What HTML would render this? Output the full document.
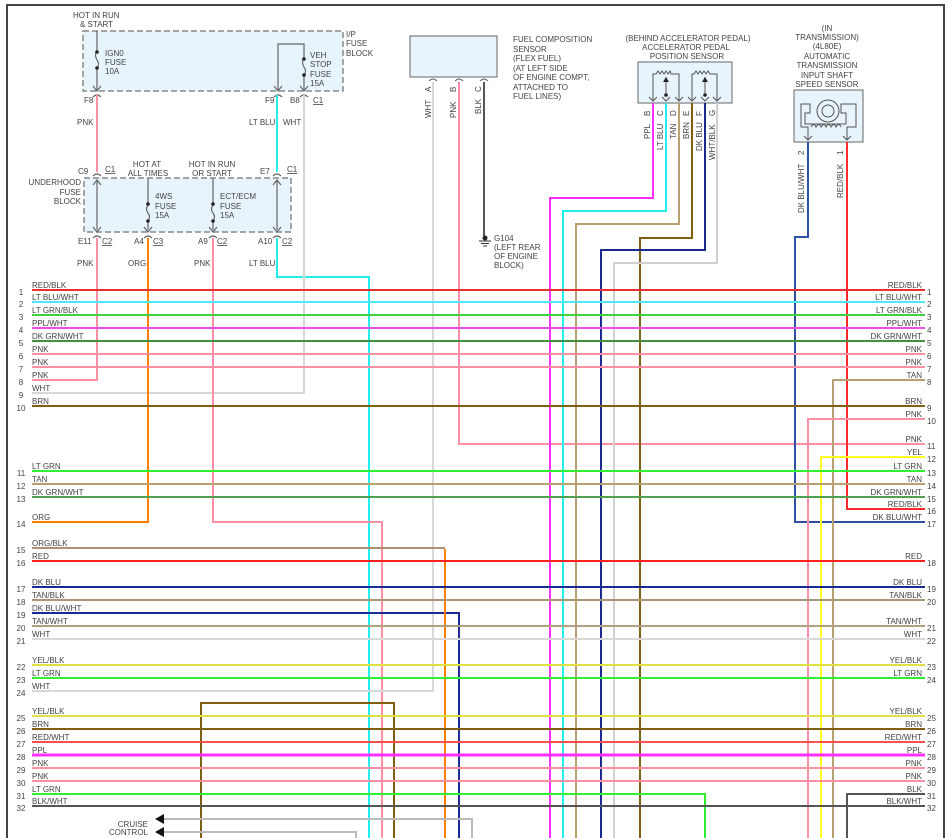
<!DOCTYPE html>
<html><head><meta charset="utf-8"><style>
html,body{margin:0;padding:0;background:#fff;}
svg{display:block;font-family:"Liberation Sans",sans-serif;font-size:8px;fill:#444;}
.w{fill:none;stroke-width:2;}
.r{text-anchor:end;}
.m{text-anchor:middle;}
</style></head><body>
<svg width="952" height="838" viewBox="0 0 952 838" xmlns="http://www.w3.org/2000/svg">
<rect x="0" y="0" width="952" height="838" fill="#fff"/>
<path d="M7 838 V5 H944 V838" fill="none" stroke="#444" stroke-width="2"/>

<rect x="83" y="31" width="260" height="60" fill="#e8f4fb" stroke="#888" stroke-width="1.5" stroke-dasharray="6,3"/>
<rect x="84" y="178" width="207" height="54" fill="#e8f4fb" stroke="#888" stroke-width="1.5" stroke-dasharray="6,3"/>
<g stroke="#666" stroke-width="1.2" fill="none">
<path d="M97 31 V51 M97 69 V90 M97 51 q-3 4 0 9 q3 4 0 9"/>
<path d="M278 91 V44 H304 V58 M304 58 q-3 4 0 9 q3 4 0 9 M304 76 V90"/>
<path d="M97 180 V230 M277 180 V230"/>
<path d="M148 178 V205 M148 205 q-3 4 0 8 q3 4 0 8 M148 221 V230"/>
<path d="M213 178 V205 M213 205 q-3 4 0 8 q3 4 0 8 M213 221 V230"/>
<path d="M93 86 l4 5 l4 -5 M274 86 l4 5 l4 -5 M300 86 l4 5 l4 -5 M93 227 l4 5 l4 -5 M144 227 l4 5 l4 -5 M209 227 l4 5 l4 -5 M273 227 l4 5 l4 -5 M93 185 l4 -5 l4 5 M273 185 l4 -5 l4 5"/>
<path d="M93 97 q4 -4 8 0 M274 97 q4 -4 8 0 M300 97 q4 -4 8 0 M93 176 q4 -4 8 0 M273 176 q4 -4 8 0 M93 238 q4 -4 8 0 M144 238 q4 -4 8 0 M209 238 q4 -4 8 0 M273 238 q4 -4 8 0"/>
</g>
<g fill="#222"><circle cx="97" cy="52" r="1.8"/><circle cx="97" cy="68" r="1.8"/><circle cx="304" cy="59" r="1.8"/><circle cx="304" cy="75" r="1.8"/><circle cx="148" cy="204" r="1.8"/><circle cx="148" cy="221" r="1.8"/><circle cx="213" cy="204" r="1.8"/><circle cx="213" cy="221" r="1.8"/></g>

<text x="73" y="18">HOT IN RUN</text><text x="80" y="27">&amp; START</text>
<text x="105" y="56">IGN0</text><text x="105" y="65">FUSE</text><text x="105" y="74">10A</text>
<text x="310" y="58">VEH</text><text x="310" y="67">STOP</text><text x="310" y="77">FUSE</text><text x="310" y="86">15A</text>
<text x="346" y="37">I/P</text><text x="346" y="46">FUSE</text><text x="346" y="56">BLOCK</text>
<text x="84" y="103">F8</text><text x="265" y="103">F9</text><text x="290" y="103">B8</text><text x="313" y="103" text-decoration="underline">C1</text>
<text x="77" y="125">PNK</text><text x="249" y="125">LT BLU</text><text x="283" y="125">WHT</text>
<text x="78" y="174">C9</text><text x="105" y="172" text-decoration="underline">C1</text>
<text x="260" y="174">E7</text><text x="287" y="172" text-decoration="underline">C1</text>
<text class="m" x="147" y="167">HOT AT</text><text class="m" x="148" y="176">ALL TIMES</text>
<text class="m" x="212" y="167">HOT IN RUN</text><text class="m" x="212" y="176">OR START</text>
<text class="r" x="81" y="185">UNDERHOOD</text><text class="r" x="81" y="195">FUSE</text><text class="r" x="81" y="204">BLOCK</text>
<text x="155" y="199">4WS</text><text x="155" y="209">FUSE</text><text x="155" y="218">15A</text>
<text x="220" y="199">ECT/ECM</text><text x="220" y="209">FUSE</text><text x="220" y="218">15A</text>
<text x="78" y="244">E11</text><text x="102" y="244" text-decoration="underline">C2</text>
<text x="134" y="244">A4</text><text x="153" y="244" text-decoration="underline">C3</text>
<text x="198" y="244">A9</text><text x="217" y="244" text-decoration="underline">C2</text>
<text x="258" y="244">A10</text><text x="282" y="244" text-decoration="underline">C2</text>
<text x="77" y="266">PNK</text><text x="128" y="266">ORG</text><text x="194" y="266">PNK</text><text x="249" y="266">LT BLU</text>

<rect x="410" y="36" width="87" height="41" fill="#e8f4fb" stroke="#666" stroke-width="1"/>
<g stroke="#666" fill="none" stroke-width="1"><path d="M429 81 q4 -4 8 0 M455 81 q4 -4 8 0 M480 81 q4 -4 8 0"/></g>
<text x="513" y="42">FUEL COMPOSITION</text><text x="513" y="52">SENSOR</text><text x="513" y="61">(FLEX FUEL)</text><text x="513" y="71">(AT LEFT SIDE</text><text x="513" y="80">OF ENGINE COMPT,</text><text x="513" y="90">ATTACHED TO</text><text x="513" y="99">FUEL LINES)</text>
<text transform="translate(431,92) rotate(-90)">A</text><text transform="translate(456,92) rotate(-90)">B</text><text transform="translate(481,92) rotate(-90)">C</text>
<text transform="translate(431,118) rotate(-90)">WHT</text><text transform="translate(456,118) rotate(-90)">PNK</text><text transform="translate(481,114) rotate(-90)">BLK</text>
<g fill="#222"><circle cx="485" cy="238" r="2.5"/></g><path d="M479 241 H491 M481 243.5 H489 M483 246 H487" stroke="#333" stroke-width="1"/>
<text x="494" y="241">G104</text><text x="494" y="250">(LEFT REAR</text><text x="494" y="259">OF ENGINE</text><text x="494" y="268">BLOCK)</text>

<text class="m" x="688" y="41">(BEHIND ACCELERATOR PEDAL)</text><text class="m" x="686" y="50">ACCELERATOR PEDAL</text><text class="m" x="687" y="59">POSITION SENSOR</text>
<rect x="638" y="62" width="94" height="41" fill="#e8f4fb" stroke="#666" stroke-width="1"/>
<g stroke="#555" fill="none" stroke-width="1">
<path d="M653 101 V74 H656 l2 -3 l2 3 l2 -3 l2 3 l2 -3 l2 3 l2 -3 l1 3 H679 V101"/>
<path d="M666 77 V96 M692 101 V74 H694 l2 -3 l2 3 l2 -3 l2 3 l2 -3 l2 3 l2 -3 l2 3 H717 V101 M705 77 V96"/>
<path d="M649 97 l4 4 l4 -4 M662 97 l4 4 l4 -4 M675 97 l4 4 l4 -4 M688 97 l4 4 l4 -4 M701 97 l4 4 l4 -4 M713 97 l4 4 l4 -4"/>
</g>
<g fill="#222"><circle cx="666" cy="95" r="1.8"/><circle cx="705" cy="95" r="1.8"/><path d="M663 82 l3 -5 l3 5z M702 82 l3 -5 l3 5z"/></g>
<text transform="translate(650,116) rotate(-90)">B</text><text transform="translate(663,116) rotate(-90)">C</text><text transform="translate(676,116) rotate(-90)">D</text><text transform="translate(689,116) rotate(-90)">E</text><text transform="translate(702,116) rotate(-90)">F</text><text transform="translate(715,116) rotate(-90)">G</text>
<text transform="translate(650,139) rotate(-90)">PPL</text><text transform="translate(663,150) rotate(-90)">LT BLU</text><text transform="translate(676,139) rotate(-90)">TAN</text><text transform="translate(689,139) rotate(-90)">BRN</text><text transform="translate(702,151) rotate(-90)">DK BLU</text><text transform="translate(715,160) rotate(-90)">WHT/BLK</text>

<text class="m" x="827" y="31">(IN</text><text class="m" x="827" y="40">TRANSMISSION)</text><text class="m" x="827" y="49">(4L80E)</text><text class="m" x="827" y="59">AUTOMATIC</text><text class="m" x="827" y="68">TRANSMISSION</text><text class="m" x="827" y="78">INPUT SHAFT</text><text class="m" x="827" y="87">SPEED SENSOR</text>
<rect x="794" y="90" width="69" height="52" fill="#e8f4fb" stroke="#666" stroke-width="1"/>
<g stroke="#555" fill="none" stroke-width="1">
<path d="M808 140 V127 H801 V104 H810 V113 H805 V124 H846 V113 H841 V104 H856 V127 H847 V140"/>
<circle cx="828" cy="111" r="11"/><circle cx="828" cy="111" r="6"/>
<path d="M811 127 q3 -5 5 0 q3 -5 5 0 q3 -5 5 0 q3 -5 5 0 q3 -5 5 0 q3 -5 5 0"/>
<path d="M804 136 l4 4 l4 -4 M843 136 l4 4 l4 -4"/>
</g>
<text transform="translate(804,155) rotate(-90)">2</text><text transform="translate(843,155) rotate(-90)">1</text>
<text transform="translate(804,213) rotate(-90)">DK BLU/WHT</text><text transform="translate(843,198) rotate(-90)">RED/BLK</text>

<g class="w">
<polyline stroke="#ff8fa3" points="97,95 97,172"/>
<polyline stroke="#ff8fa3" points="97,238 97,380 32,380"/>
<polyline stroke="#22eef0" points="277,95 277,172"/>
<polyline stroke="#22eef0" points="277,238 277,277 369,277 369,838"/>
<polyline stroke="#d8d8d8" points="304,95 304,393 32,393"/>
<polyline stroke="#ff8000" points="148,238 148,522 32,522"/>
<polyline stroke="#ff8fa3" points="213,238 213,522 382,522 382,838"/>
<polyline stroke="#d8d8d8" points="433,82 433,691 32,691"/>
<polyline stroke="#ff8fa3" points="459,82 459,444 925,444"/>
<polyline stroke="#1a2a90" points="32,613 459,613 459,838"/>
<polyline stroke="#555" points="484,82 484,236"/>
<polyline stroke="#b09070" points="32,548 445,548"/>
<polyline stroke="#ff8000" points="445,549 445,838"/>
<polyline stroke="#806010" points="201,838 201,703 394,703 394,838"/>
<polyline stroke="#bbb" points="162,819 472,819 472,838"/>
<polyline stroke="#bbb" points="162,832 356,832 356,838"/>
<polyline stroke="#ff30ff" points="653,103 653,198 550,198 550,838"/>
<polyline stroke="#22eef0" points="666,103 666,211 563,211 563,838"/>
<polyline stroke="#b8a070" points="679,103 679,224 576,224 576,838"/>
<polyline stroke="#806010" points="692,103 692,238 640,238 640,838"/>
<polyline stroke="#1a2a90" points="705,103 705,250 601,250 601,838"/>
<polyline stroke="#d0d0d0" points="717,103 717,263 614,263 614,838"/>
<polyline stroke="#3050a8" points="808,142 808,237 795,237 795,522 925,522"/>
<polyline stroke="#ff2a2a" points="847,142 847,509 925,509"/>
<polyline stroke="#b8a070" points="925,380 833,380 833,838"/>
<polyline stroke="#ff8fa3" points="925,419 808,419 808,838"/>
<polyline stroke="#ffff20" points="925,457 821,457 821,838"/>
<polyline stroke="#555" points="925,794 847,794 847,838"/>
<polyline stroke="#30f030" points="32,794 705,794 705,838"/>
</g>
<g fill="#111"><path d="M155 819 l9 -5 v10z M155 832 l9 -5 v10z"/></g>
<text class="r" x="148" y="827">CRUISE</text><text class="r" x="148" y="835">CONTROL</text>

<g class="w">
<line x1="32" x2="925" y1="290" y2="290" stroke="#e83030"/>
<line x1="32" x2="925" y1="302" y2="302" stroke="#50e8f8"/>
<line x1="32" x2="925" y1="315" y2="315" stroke="#40d040"/>
<line x1="32" x2="925" y1="328" y2="328" stroke="#e850e8"/>
<line x1="32" x2="925" y1="341" y2="341" stroke="#409040"/>
<line x1="32" x2="925" y1="354" y2="354" stroke="#ff8fa3"/>
<line x1="32" x2="925" y1="367" y2="367" stroke="#ff8fa3"/>
<line x1="32" x2="925" y1="406" y2="406" stroke="#806010"/>
<line x1="32" x2="925" y1="471" y2="471" stroke="#30f030"/>
<line x1="32" x2="925" y1="484" y2="484" stroke="#b8a070"/>
<line x1="32" x2="925" y1="497" y2="497" stroke="#50a050"/>
<line x1="32" x2="925" y1="561" y2="561" stroke="#ff2020"/>
<line x1="32" x2="925" y1="587" y2="587" stroke="#1a2a90"/>
<line x1="32" x2="925" y1="600" y2="600" stroke="#a89878"/>
<line x1="32" x2="925" y1="626" y2="626" stroke="#b0a080"/>
<line x1="32" x2="925" y1="639" y2="639" stroke="#d8d8d8"/>
<line x1="32" x2="925" y1="665" y2="665" stroke="#e0e040"/>
<line x1="32" x2="925" y1="678" y2="678" stroke="#30f030"/>
<line x1="32" x2="925" y1="716" y2="716" stroke="#e0e040"/>
<line x1="32" x2="925" y1="729" y2="729" stroke="#806010"/>
<line x1="32" x2="925" y1="742" y2="742" stroke="#ff5050"/>
<line x1="32" x2="925" y1="755" y2="755" stroke="#ff30ff" stroke-width="3"/>
<line x1="32" x2="925" y1="768" y2="768" stroke="#ff8fa3"/>
<line x1="32" x2="925" y1="781" y2="781" stroke="#ff8fa3"/>
<line x1="32" x2="925" y1="806" y2="806" stroke="#555"/>
</g>

<g>
<text x="32" y="288">RED/BLK</text><text class="m" x="21" y="295">1</text>
<text x="32" y="300">LT BLU/WHT</text><text class="m" x="21" y="307">2</text>
<text x="32" y="313">LT GRN/BLK</text><text class="m" x="21" y="320">3</text>
<text x="32" y="326">PPL/WHT</text><text class="m" x="21" y="333">4</text>
<text x="32" y="339">DK GRN/WHT</text><text class="m" x="21" y="346">5</text>
<text x="32" y="352">PNK</text><text class="m" x="21" y="359">6</text>
<text x="32" y="365">PNK</text><text class="m" x="21" y="372">7</text>
<text x="32" y="378">PNK</text><text class="m" x="21" y="385">8</text>
<text x="32" y="391">WHT</text><text class="m" x="21" y="398">9</text>
<text x="32" y="404">BRN</text><text class="m" x="21" y="411">10</text>
<text x="32" y="469">LT GRN</text><text class="m" x="21" y="476">11</text>
<text x="32" y="482">TAN</text><text class="m" x="21" y="489">12</text>
<text x="32" y="495">DK GRN/WHT</text><text class="m" x="21" y="502">13</text>
<text x="32" y="520">ORG</text><text class="m" x="21" y="527">14</text>
<text x="32" y="546">ORG/BLK</text><text class="m" x="21" y="553">15</text>
<text x="32" y="559">RED</text><text class="m" x="21" y="566">16</text>
<text x="32" y="585">DK BLU</text><text class="m" x="21" y="592">17</text>
<text x="32" y="598">TAN/BLK</text><text class="m" x="21" y="605">18</text>
<text x="32" y="611">DK BLU/WHT</text><text class="m" x="21" y="618">19</text>
<text x="32" y="624">TAN/WHT</text><text class="m" x="21" y="631">20</text>
<text x="32" y="637">WHT</text><text class="m" x="21" y="644">21</text>
<text x="32" y="663">YEL/BLK</text><text class="m" x="21" y="670">22</text>
<text x="32" y="676">LT GRN</text><text class="m" x="21" y="683">23</text>
<text x="32" y="689">WHT</text><text class="m" x="21" y="696">24</text>
<text x="32" y="714">YEL/BLK</text><text class="m" x="21" y="721">25</text>
<text x="32" y="727">BRN</text><text class="m" x="21" y="734">26</text>
<text x="32" y="740">RED/WHT</text><text class="m" x="21" y="747">27</text>
<text x="32" y="753">PPL</text><text class="m" x="21" y="760">28</text>
<text x="32" y="766">PNK</text><text class="m" x="21" y="773">29</text>
<text x="32" y="779">PNK</text><text class="m" x="21" y="786">30</text>
<text x="32" y="792">LT GRN</text><text class="m" x="21" y="799">31</text>
<text x="32" y="804">BLK/WHT</text><text class="m" x="21" y="811">32</text>
</g>

<g>
<text class="r" x="922" y="288">RED/BLK</text><text x="927" y="295">1</text>
<text class="r" x="922" y="300">LT BLU/WHT</text><text x="927" y="307">2</text>
<text class="r" x="922" y="313">LT GRN/BLK</text><text x="927" y="320">3</text>
<text class="r" x="922" y="326">PPL/WHT</text><text x="927" y="333">4</text>
<text class="r" x="922" y="339">DK GRN/WHT</text><text x="927" y="346">5</text>
<text class="r" x="922" y="352">PNK</text><text x="927" y="359">6</text>
<text class="r" x="922" y="365">PNK</text><text x="927" y="372">7</text>
<text class="r" x="922" y="378">TAN</text><text x="927" y="385">8</text>
<text class="r" x="922" y="404">BRN</text><text x="927" y="411">9</text>
<text class="r" x="922" y="417">PNK</text><text x="927" y="424">10</text>
<text class="r" x="922" y="442">PNK</text><text x="927" y="449">11</text>
<text class="r" x="922" y="455">YEL</text><text x="927" y="462">12</text>
<text class="r" x="922" y="469">LT GRN</text><text x="927" y="476">13</text>
<text class="r" x="922" y="482">TAN</text><text x="927" y="489">14</text>
<text class="r" x="922" y="495">DK GRN/WHT</text><text x="927" y="502">15</text>
<text class="r" x="922" y="507">RED/BLK</text><text x="927" y="514">16</text>
<text class="r" x="922" y="520">DK BLU/WHT</text><text x="927" y="527">17</text>
<text class="r" x="922" y="559">RED</text><text x="927" y="566">18</text>
<text class="r" x="922" y="585">DK BLU</text><text x="927" y="592">19</text>
<text class="r" x="922" y="598">TAN/BLK</text><text x="927" y="605">20</text>
<text class="r" x="922" y="624">TAN/WHT</text><text x="927" y="631">21</text>
<text class="r" x="922" y="637">WHT</text><text x="927" y="644">22</text>
<text class="r" x="922" y="663">YEL/BLK</text><text x="927" y="670">23</text>
<text class="r" x="922" y="676">LT GRN</text><text x="927" y="683">24</text>
<text class="r" x="922" y="714">YEL/BLK</text><text x="927" y="721">25</text>
<text class="r" x="922" y="727">BRN</text><text x="927" y="734">26</text>
<text class="r" x="922" y="740">RED/WHT</text><text x="927" y="747">27</text>
<text class="r" x="922" y="753">PPL</text><text x="927" y="760">28</text>
<text class="r" x="922" y="766">PNK</text><text x="927" y="773">29</text>
<text class="r" x="922" y="779">PNK</text><text x="927" y="786">30</text>
<text class="r" x="922" y="792">BLK</text><text x="927" y="799">31</text>
<text class="r" x="922" y="804">BLK/WHT</text><text x="927" y="811">32</text>
</g>
</svg>
</body></html>
